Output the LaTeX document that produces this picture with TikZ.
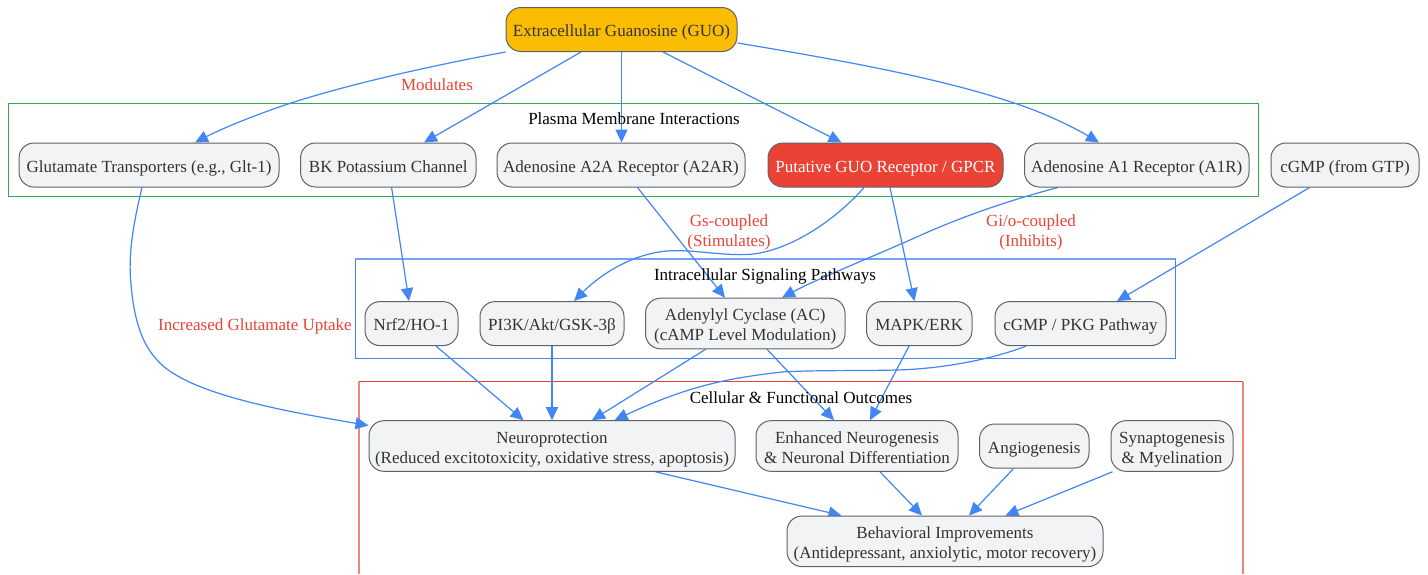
\documentclass[tikz,border=0pt]{standalone}
\usepackage{fontspec}
\setmainfont{Liberation Serif}
\usetikzlibrary{arrows.meta}
\definecolor{edgeblue}{HTML}{4285F4}
\definecolor{gred}{HTML}{EA4335}
\definecolor{ggreen}{HTML}{34A853}
\definecolor{gyellow}{HTML}{FBBC04}
\definecolor{nodefill}{HTML}{F1F3F4}
\definecolor{nodeline}{HTML}{5F6368}
\definecolor{nodetext}{HTML}{333333}
\pgfdeclarelayer{bg}
\pgfsetlayers{bg,main}
\tikzset{
  x=1pt,y=-1pt,
  steady/.style={execute at begin node={\rule{0pt}{#1}},execute at end node={\rule[-4pt]{0pt}{0pt}}},
  box/.style={steady=18pt,draw=nodeline,line width=1pt,fill=nodefill,text=nodetext,rounded corners=15pt,inner sep=0pt,
    align=center,font=\fontsize{17}{20}\selectfont,minimum height=44pt},
  tall/.style={steady=38pt,minimum height=50.6pt},
  edge/.style={draw=edgeblue,line width=1.2pt,-{Triangle[length=13pt,width=12pt]}},
  elabel/.style={steady=16pt,text=gred,align=center,font=\fontsize{17}{20}\selectfont,inner sep=0pt},
  ctitle/.style={steady=16pt,text=black,font=\fontsize{17}{20}\selectfont,inner sep=0pt},
  cluster/.style={line width=1.25pt,fill=none},
}
\begin{document}
\begin{tikzpicture}
\useasboundingbox (0,0) rectangle (1428,574);
\begin{pgfonlayer}{bg}
\fill[white] (0,0) rectangle (1428,574);
\draw[cluster,draw=ggreen] (8.6,103.4) rectangle (1258.8,196.4);
\draw[cluster,draw=edgeblue!75] (355.4,259) -- (1175.8,259);
\draw[cluster,draw=edgeblue] (1175.8,259) -- (1175.8,358.4) -- (355.4,358.4) -- (355.4,259);
\draw[cluster,draw=gred!65] (359,574) -- (359,381.6);
\draw[cluster,draw=gred!65] (1243,381.6) -- (1243,574);
\draw[cluster,draw=gred] (359,381.6) -- (1243,381.6);
\end{pgfonlayer}
\node[box,fill=gyellow,minimum width=231pt] (guo) at (621.5,29.5) {Extracellular Guanosine (GUO)};
\node[box,minimum width=260pt] (gt) at (149,165) {Glutamate Transporters (e.g., Glt-1)};
\node[box,minimum width=175.5pt] (bk) at (388.25,165) {BK Potassium Channel};
\node[box,minimum width=248pt] (a2a) at (621,165) {Adenosine A2A Receptor (A2AR)};
\node[box,fill=gred,text=white,minimum width=235pt] (gpcr) at (885.5,165) {Putative GUO Receptor / GPCR};
\node[box,minimum width=224.5pt] (a1r) at (1136.75,165) {Adenosine A1 Receptor (A1R)};
\node[box,minimum width=148pt] (cgmp) at (1345,165) {cGMP (from GTP)};
\node[box,minimum width=93pt] (nrf) at (411.5,323.6) {Nrf2/HO-1};
\node[box,minimum width=144pt] (pi3k) at (552,323.6) {PI3K/Akt/GSK-3β};
\node[box,tall,minimum width=199.5pt] (ac) at (745.25,323.5) {Adenylyl Cyclase (AC)\\(cAMP Level Modulation)};
\node[box,minimum width=105.5pt] (mapk) at (919.25,323.6) {MAPK/ERK};
\node[box,minimum width=171pt] (pkg) at (1080.5,323.6) {cGMP / PKG Pathway};
\node[box,tall,minimum width=366pt] (neuro) at (552,446) {Neuroprotection\\(Reduced excitotoxicity, oxidative stress, apoptosis)};
\node[box,tall,minimum width=202pt] (enh) at (857,446) {Enhanced Neurogenesis\\\& Neuronal Differentiation};
\node[box,minimum width=109.5pt] (angio) at (1034.25,446) {Angiogenesis};
\node[box,tall,minimum width=122pt] (syn) at (1172,446) {Synaptogenesis\\\& Myelination};
\node[box,tall,minimum width=316pt] (beh) at (945,541.3) {Behavioral Improvements\\(Antidepressant, anxiolytic, motor recovery)};
\node[ctitle] (t1) at (634,118) {Plasma Membrane Interactions};
\node[ctitle] (t2) at (765,274.5) {Intracellular Signaling Pathways};
\node[ctitle] (t3) at (801,397) {Cellular \& Functional Outcomes};
\node[elabel] (l1) at (437,84) {Modulates};
\node[elabel] (l2) at (729,233) {Gs-coupled\\(Stimulates)};
\node[elabel] (l3) at (1031,233) {Gi/o-coupled\\(Inhibits)};
\node[elabel] (l4) at (255,324) {Increased Glutamate Uptake};
\begin{pgfonlayer}{bg}
\draw[edge] (guo.south west) .. controls (430,66) and (350,84) .. (291,103) .. controls (258,114) and (225,127) .. ([xshift=46pt]gt.north);
\draw[edge] ([xshift=-40.5pt]guo.south) -- ([xshift=35.75pt]bk.north);
\draw[edge] (guo.south) -- ([xshift=0.5pt]a2a.north);
\draw[edge] ([xshift=41.5pt]guo.south) -- ([xshift=-44pt]gpcr.north);
\draw[edge] ([yshift=-13.5pt]guo.east) .. controls (840,60) and (940,78) .. (1014,103) .. controls (1045,113) and (1075,128) .. ([xshift=-37.75pt]a1r.north);
\draw[edge] ([xshift=-7pt]gt.south) .. controls (133,225) and (128,255) .. (131,284) .. controls (134,320) and (142,345) .. (159,362) .. controls (190,395) and (290,412) .. ([yshift=-5.3pt]neuro.north west);
\draw[edge] ([xshift=3.35pt]bk.south) -- ([xshift=-2.5pt]nrf.north);
\draw[edge] ([xshift=16.5pt]a2a.south) -- ([xshift=-20.25pt]ac.north);
\draw[edge] ([xshift=-21.5pt]gpcr.south) .. controls (840,215) and (800,245) .. (760,253) .. controls (735,258) and (700,250) .. (674,250.7) .. controls (640,251) and (605,270) .. ([xshift=22pt]pi3k.north);
\draw[edge] ([xshift=4.5pt]gpcr.south) -- ([xshift=-4.85pt]mapk.north);
\draw[edge] ([xshift=-78.75pt]a1r.south) .. controls (1010,200) and (960,217) .. (910,240) .. controls (860,262) and (815,280) .. ([xshift=36.75pt]ac.north);
\draw[edge] ([xshift=-35.4pt]cgmp.south) -- ([xshift=36.5pt]pkg.north);
\draw[edge] ([xshift=24.5pt]nrf.south) -- ([xshift=-28.5pt]neuro.north);
\draw[edge] (pi3k.south) -- (neuro.north);
\draw[edge] ([xshift=-39.65pt]ac.south) -- ([xshift=40pt]neuro.north);
\draw[edge] ([xshift=21.75pt]ac.south) -- ([xshift=-23pt]enh.north);
\draw[edge] ([xshift=-10.25pt]mapk.south) -- ([xshift=13pt]enh.north);
\draw[edge] ([xshift=-54.5pt]pkg.south) .. controls (990,360) and (940,369) .. (896,370) .. controls (860,371) and (815,370) .. (782,372) .. controls (730,378) and (690,385) .. ([xshift=62.6pt]neuro.north);
\draw[edge] ([xshift=103.5pt]neuro.south) -- ([xshift=-103.5pt]beh.north);
\draw[edge] ([xshift=23pt]enh.south) -- ([xshift=-23pt]beh.north);
\draw[edge] ([xshift=-20.65pt]angio.south) -- ([xshift=24pt]beh.north);
\draw[edge] ([xshift=-59.5pt]syn.south) -- ([xshift=60.4pt]beh.north);
\end{pgfonlayer}
\end{tikzpicture}
\end{document}
